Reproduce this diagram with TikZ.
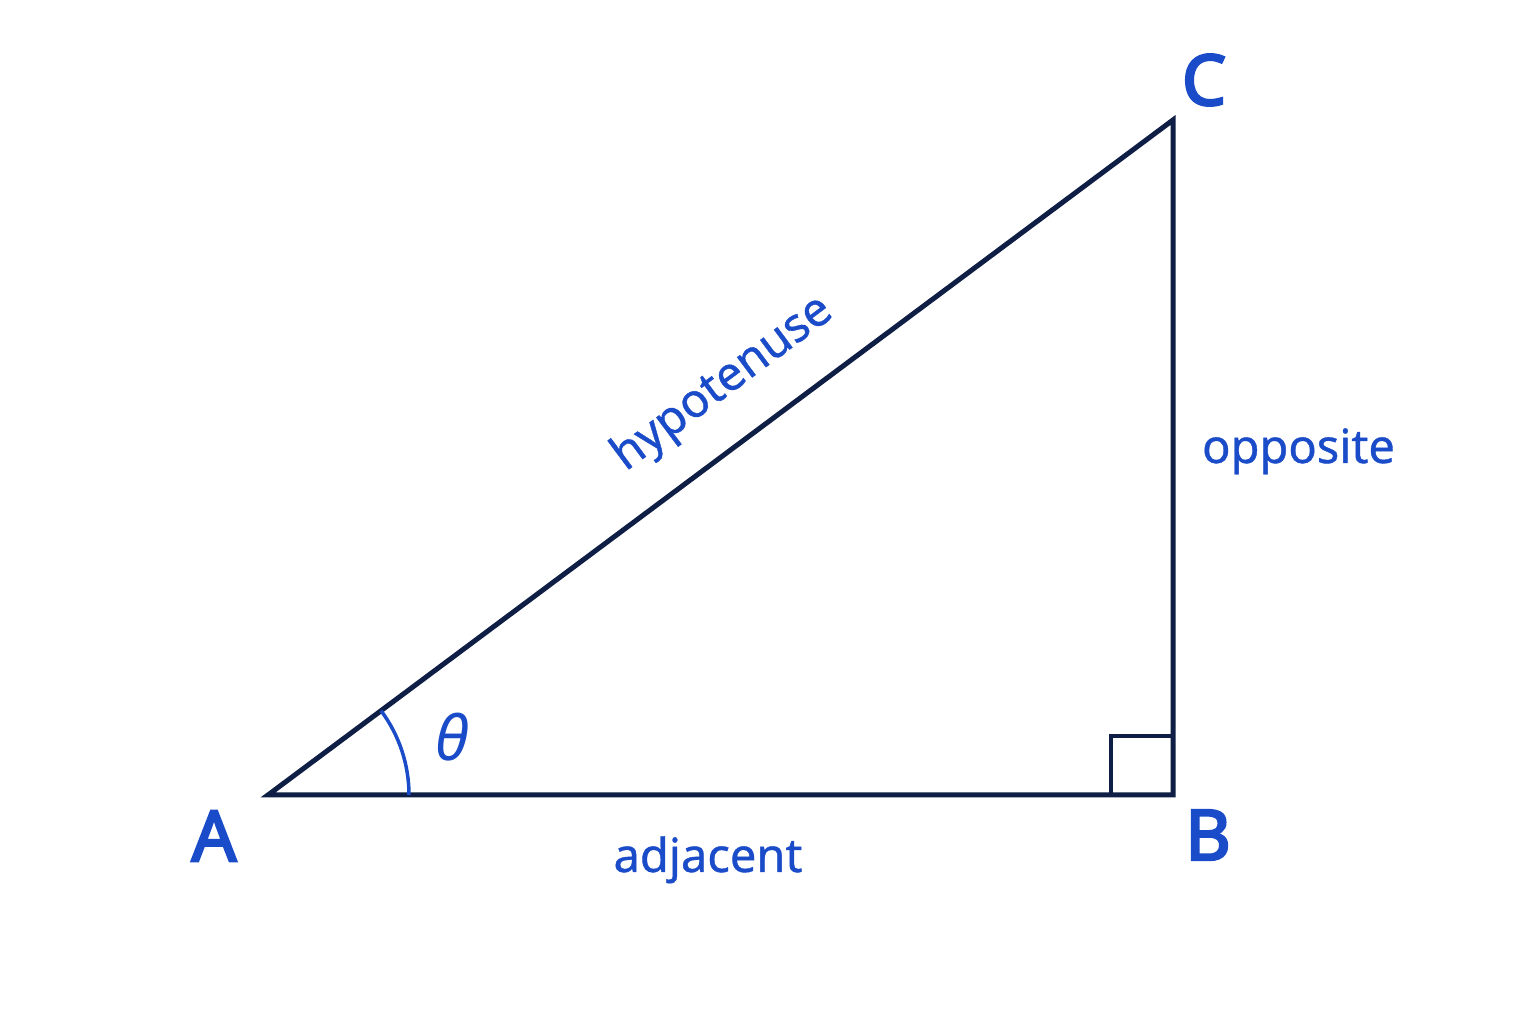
\documentclass[tikz,border=0pt]{standalone}
\usepackage{fontspec}
\setmainfont{Noto Sans}
\newfontfamily\vtxfont{Noto Sans}[FakeBold=3.5]
\newfontfamily\lblfont{Noto Sans}[FakeBold=0.8]
\newfontfamily\thfont{Noto Sans}[FakeBold=0.8, FakeSlant=0.2]
\usetikzlibrary{calc}
\definecolor{lbl}{HTML}{1A4BC8}
\definecolor{edge}{HTML}{0F1E45}
\tikzset{
  side/.style={draw=edge, line width=5pt, line join=miter},
  vtx/.style={text=lbl, font=\fontsize{70}{80}\vtxfont, inner sep=0pt},
  sidelbl/.style={text=lbl, font=\fontsize{47}{56}\lblfont, inner sep=0pt},
}
\begin{document}
\begin{tikzpicture}[x=1pt,y=1pt]
\useasboundingbox[fill=white] (0,0) rectangle (1536,1024);
\coordinate (A) at (268,229);
\coordinate (B) at (1173,229);
\coordinate (C) at (1173,904);
\draw[side] (A) -- (B) -- (C) -- cycle;
\draw[draw=edge, line width=4.5pt] (1173,288) -| (1111,229);
\draw[draw=lbl, line width=3.5pt] ($(A)+(141,0)$) arc[start angle=0, end angle=36.7, radius=141];
\node[vtx] (la) at (214,188) {A};
\node[vtx] (lb) at (1208,189) {B};
\node[vtx] (lc) at (1204,944) {C};
\node[sidelbl, anchor=base] (opp) at (1298.5,561) {opposite};
\node[sidelbl, anchor=base] (adj) at (708,152) {adjacent};
\node[sidelbl, rotate=36.7] (hyp) at (723,640) {hypotenuse};
\node[text=lbl, font=\fontsize{62}{70}\selectfont\itshape, inner sep=0pt] (th) at (452,287) {θ};
\end{tikzpicture}
\end{document}
